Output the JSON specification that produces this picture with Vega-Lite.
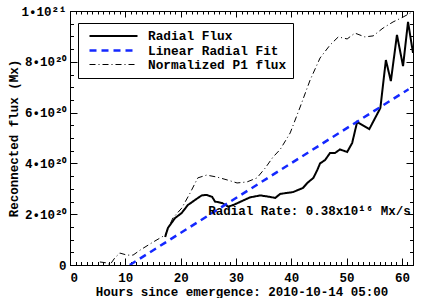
{
  "$schema": "https://vega.github.io/schema/vega-lite/v6.json",
  "autosize": "none",
  "width": 343,
  "height": 254,
  "padding": {"left": 70, "top": 11, "right": 10, "bottom": 33},
  "background": "white",
  "config": {
    "view": {"stroke": "black", "strokeWidth": 1},
    "font": "Liberation Mono",
    "axis": {"labelFont": "Liberation Mono", "titleFont": "Liberation Mono", "labelFontWeight": "bold", "titleFontWeight": "bold", "labelColor": "black", "titleColor": "black", "tickColor": "black", "domain": false, "grid": false},
    "legend": {"title": null, "orient": "none", "legendX": 8, "legendY": 12, "symbolType": "M-1,0H7", "symbolSize": 144,
      "labelFont": "Liberation Mono", "labelFontWeight": "bold", "labelFontSize": 12.8, "labelColor": "black", "labelOffset": 45,
      "padding": 6, "rowPadding": -1, "strokeColor": "black", "fillColor": "white", "symbolOffset": 4, "symbolStrokeColor": "black"}
  },
  "datasets": {
    "flux": [
      {"series": "Radial Flux", "h": 17.2, "v": 1.10e20},
      {"series": "Radial Flux", "h": 17.7, "v": 1.46e20},
      {"series": "Radial Flux", "h": 19.0, "v": 1.85e20},
      {"series": "Radial Flux", "h": 20.2, "v": 2.05e20},
      {"series": "Radial Flux", "h": 21.3, "v": 2.36e20},
      {"series": "Radial Flux", "h": 22.6, "v": 2.56e20},
      {"series": "Radial Flux", "h": 23.8, "v": 2.74e20},
      {"series": "Radial Flux", "h": 24.7, "v": 2.76e20},
      {"series": "Radial Flux", "h": 25.7, "v": 2.68e20},
      {"series": "Radial Flux", "h": 26.2, "v": 2.50e20},
      {"series": "Radial Flux", "h": 27.5, "v": 2.44e20},
      {"series": "Radial Flux", "h": 28.6, "v": 2.30e20},
      {"series": "Radial Flux", "h": 29.5, "v": 2.36e20},
      {"series": "Radial Flux", "h": 30.7, "v": 2.48e20},
      {"series": "Radial Flux", "h": 32.5, "v": 2.66e20},
      {"series": "Radial Flux", "h": 34.4, "v": 2.74e20},
      {"series": "Radial Flux", "h": 36.2, "v": 2.68e20},
      {"series": "Radial Flux", "h": 37.1, "v": 2.64e20},
      {"series": "Radial Flux", "h": 38.0, "v": 2.80e20},
      {"series": "Radial Flux", "h": 40.3, "v": 2.87e20},
      {"series": "Radial Flux", "h": 42.1, "v": 3.03e20},
      {"series": "Radial Flux", "h": 42.9, "v": 3.23e20},
      {"series": "Radial Flux", "h": 44.0, "v": 3.43e20},
      {"series": "Radial Flux", "h": 44.7, "v": 3.74e20},
      {"series": "Radial Flux", "h": 45.2, "v": 4.00e20},
      {"series": "Radial Flux", "h": 46.1, "v": 4.13e20},
      {"series": "Radial Flux", "h": 47.0, "v": 4.41e20},
      {"series": "Radial Flux", "h": 47.9, "v": 4.41e20},
      {"series": "Radial Flux", "h": 48.8, "v": 4.55e20},
      {"series": "Radial Flux", "h": 50.1, "v": 4.45e20},
      {"series": "Radial Flux", "h": 51.0, "v": 4.80e20},
      {"series": "Radial Flux", "h": 51.9, "v": 5.63e20},
      {"series": "Radial Flux", "h": 54.1, "v": 5.35e20},
      {"series": "Radial Flux", "h": 56.1, "v": 6.18e20},
      {"series": "Radial Flux", "h": 57.1, "v": 8.07e20},
      {"series": "Radial Flux", "h": 58.0, "v": 7.24e20},
      {"series": "Radial Flux", "h": 59.1, "v": 9.06e20},
      {"series": "Radial Flux", "h": 60.2, "v": 7.83e20},
      {"series": "Radial Flux", "h": 61.1, "v": 9.57e20},
      {"series": "Radial Flux", "h": 62.0, "v": 8.35e20},
      {"series": "Linear Radial Fit", "h": 10.8, "v": 0},
      {"series": "Linear Radial Fit", "h": 61.2, "v": 6.92e20},
      {"series": "Normalized P1 flux", "h": 5.4, "v": 0.12e20},
      {"series": "Normalized P1 flux", "h": 6.7, "v": 0.08e20},
      {"series": "Normalized P1 flux", "h": 7.2, "v": 0.0},
      {"series": "Normalized P1 flux", "h": 8.1, "v": 0.28e20},
      {"series": "Normalized P1 flux", "h": 9.0, "v": 0.47e20},
      {"series": "Normalized P1 flux", "h": 10.3, "v": 0.39e20},
      {"series": "Normalized P1 flux", "h": 11.4, "v": 0.39e20},
      {"series": "Normalized P1 flux", "h": 12.7, "v": 0.59e20},
      {"series": "Normalized P1 flux", "h": 15.0, "v": 0.90e20},
      {"series": "Normalized P1 flux", "h": 17.2, "v": 1.18e20},
      {"series": "Normalized P1 flux", "h": 18.6, "v": 1.85e20},
      {"series": "Normalized P1 flux", "h": 20.2, "v": 2.24e20},
      {"series": "Normalized P1 flux", "h": 21.7, "v": 2.83e20},
      {"series": "Normalized P1 flux", "h": 23.1, "v": 3.43e20},
      {"series": "Normalized P1 flux", "h": 24.7, "v": 3.54e20},
      {"series": "Normalized P1 flux", "h": 26.6, "v": 3.46e20},
      {"series": "Normalized P1 flux", "h": 28.4, "v": 3.35e20},
      {"series": "Normalized P1 flux", "h": 30.2, "v": 3.23e20},
      {"series": "Normalized P1 flux", "h": 32.0, "v": 3.27e20},
      {"series": "Normalized P1 flux", "h": 33.8, "v": 3.43e20},
      {"series": "Normalized P1 flux", "h": 35.3, "v": 3.82e20},
      {"series": "Normalized P1 flux", "h": 36.7, "v": 4.25e20},
      {"series": "Normalized P1 flux", "h": 38.0, "v": 4.55e20},
      {"series": "Normalized P1 flux", "h": 39.8, "v": 5.20e20},
      {"series": "Normalized P1 flux", "h": 41.6, "v": 6.22e20},
      {"series": "Normalized P1 flux", "h": 43.4, "v": 7.28e20},
      {"series": "Normalized P1 flux", "h": 45.2, "v": 8.15e20},
      {"series": "Normalized P1 flux", "h": 47.0, "v": 8.66e20},
      {"series": "Normalized P1 flux", "h": 48.5, "v": 8.98e20},
      {"series": "Normalized P1 flux", "h": 50.1, "v": 8.90e20},
      {"series": "Normalized P1 flux", "h": 51.5, "v": 9.13e20},
      {"series": "Normalized P1 flux", "h": 53.3, "v": 8.98e20},
      {"series": "Normalized P1 flux", "h": 54.8, "v": 9.02e20},
      {"series": "Normalized P1 flux", "h": 56.6, "v": 9.33e20},
      {"series": "Normalized P1 flux", "h": 58.4, "v": 9.57e20},
      {"series": "Normalized P1 flux", "h": 60.2, "v": 9.76e20},
      {"series": "Normalized P1 flux", "h": 61.5, "v": 9.92e20},
      {"series": "Normalized P1 flux", "h": 62.0, "v": 9.98e20}
    ],
    "note": [
      {"h": 25.0, "v": 2.13e20, "label": "Radial Rate: 0.38x10¹⁶ Mx/s"}
    ]
  },
  "resolve": {"axis": {"x": "independent", "y": "independent"}},
  "layer": [
    {
      "data": {"name": "flux"},
      "mark": {"type": "line", "clip": true},
      "encoding": {
        "x": {"field": "h", "type": "quantitative", "scale": {"domain": [0, 62], "nice": false, "zero": false},
          "axis": {"orient": "bottom", "values": [0, 10, 20, 30, 40, 50, 60], "ticks": false, "labelPadding": 6, "labelFontSize": 12.5,
            "title": "Hours since emergence: 2010-10-14 05:00", "titleFontSize": 12.5, "titleY": 26, "titleBaseline": "middle"}},
        "y": {"field": "v", "type": "quantitative", "scale": {"domain": [0, 1e21], "nice": false},
          "axis": {"orient": "left", "values": [0, 2e20, 4e20, 6e20, 8e20, 1e21], "ticks": false, "labelPadding": 4, "labelFontSize": 12.5, "labelBaseline": "middle",
            "labelExpr": "datum.value == 0 ? '0' : (datum.value > 9e20 ? '1•10²¹' : round(datum.value / 1e20) + '•10²⁰')",
            "title": "Reconnected flux (Mx)", "titleFontSize": 12.5, "titleX": -57, "titleY": 127, "titleAlign": "center", "titleBaseline": "middle", "titleAngle": 270}},
        "color": {"field": "series", "type": "nominal",
          "scale": {"domain": ["Radial Flux", "Linear Radial Fit", "Normalized P1 flux"], "range": ["black", "#1428ff", "black"]}},
        "strokeDash": {"field": "series", "type": "nominal",
          "scale": {"domain": ["Radial Flux", "Linear Radial Fit", "Normalized P1 flux"], "range": [[1, 0], [7, 5], [6, 3, 1, 3]]}},
        "strokeWidth": {"field": "series", "type": "ordinal",
          "scale": {"type": "ordinal", "domain": ["Radial Flux", "Linear Radial Fit", "Normalized P1 flux"], "range": [2, 2.5, 1]}},
        "order": {"field": "h", "type": "quantitative"}
      }
    },
    {
      "data": {"name": "note"},
      "mark": {"type": "text", "align": "left", "baseline": "middle", "font": "Liberation Mono", "fontWeight": "bold", "fontSize": 12.5, "color": "black"},
      "encoding": {
        "x": {"field": "h", "type": "quantitative", "axis": null},
        "y": {"field": "v", "type": "quantitative", "axis": null},
        "text": {"field": "label"}
      }
    },
    {
      "data": {"name": "flux"},
      "mark": {"type": "point", "opacity": 0},
      "encoding": {
        "x": {"field": "h", "type": "quantitative", "axis": {"orient": "bottom", "values": [0, 10, 20, 30, 40, 50, 60], "labels": false, "tickSize": -7, "title": null}},
        "y": {"field": "v", "type": "quantitative", "axis": {"orient": "left", "values": [0, 2e20, 4e20, 6e20, 8e20, 1e21], "labels": false, "tickSize": -7, "title": null}}
      }
    },
    {
      "data": {"name": "flux"},
      "mark": {"type": "point", "opacity": 0},
      "encoding": {
        "x": {"field": "h", "type": "quantitative", "axis": {"orient": "bottom", "values": [0,1,2,3,4,5,6,7,8,9,10,11,12,13,14,15,16,17,18,19,20,21,22,23,24,25,26,27,28,29,30,31,32,33,34,35,36,37,38,39,40,41,42,43,44,45,46,47,48,49,50,51,52,53,54,55,56,57,58,59,60,61,62], "labels": false, "tickSize": -3.5, "title": null}},
        "y": {"field": "v", "type": "quantitative", "axis": {"orient": "left", "values": [0,5e19,1e20,1.5e20,2e20,2.5e20,3e20,3.5e20,4e20,4.5e20,5e20,5.5e20,6e20,6.5e20,7e20,7.5e20,8e20,8.5e20,9e20,9.5e20,1e21], "labels": false, "tickSize": -3.5, "title": null}}
      }
    },
    {
      "data": {"name": "flux"},
      "mark": {"type": "point", "opacity": 0},
      "encoding": {
        "x": {"field": "h", "type": "quantitative", "axis": {"orient": "top", "values": [0, 10, 20, 30, 40, 50, 60], "labels": false, "tickSize": -6, "title": null}},
        "y": {"field": "v", "type": "quantitative", "axis": {"orient": "right", "values": [0, 2e20, 4e20, 6e20, 8e20, 1e21], "labels": false, "tickSize": -7, "title": null}}
      }
    },
    {
      "data": {"name": "flux"},
      "mark": {"type": "point", "opacity": 0},
      "encoding": {
        "x": {"field": "h", "type": "quantitative", "axis": {"orient": "top", "values": [0,1,2,3,4,5,6,7,8,9,10,11,12,13,14,15,16,17,18,19,20,21,22,23,24,25,26,27,28,29,30,31,32,33,34,35,36,37,38,39,40,41,42,43,44,45,46,47,48,49,50,51,52,53,54,55,56,57,58,59,60,61,62], "labels": false, "tickSize": -3, "title": null}},
        "y": {"field": "v", "type": "quantitative", "axis": {"orient": "right", "values": [0,5e19,1e20,1.5e20,2e20,2.5e20,3e20,3.5e20,4e20,4.5e20,5e20,5.5e20,6e20,6.5e20,7e20,7.5e20,8e20,8.5e20,9e20,9.5e20,1e21], "labels": false, "tickSize": -3.5, "title": null}}
      }
    }
  ]
}
